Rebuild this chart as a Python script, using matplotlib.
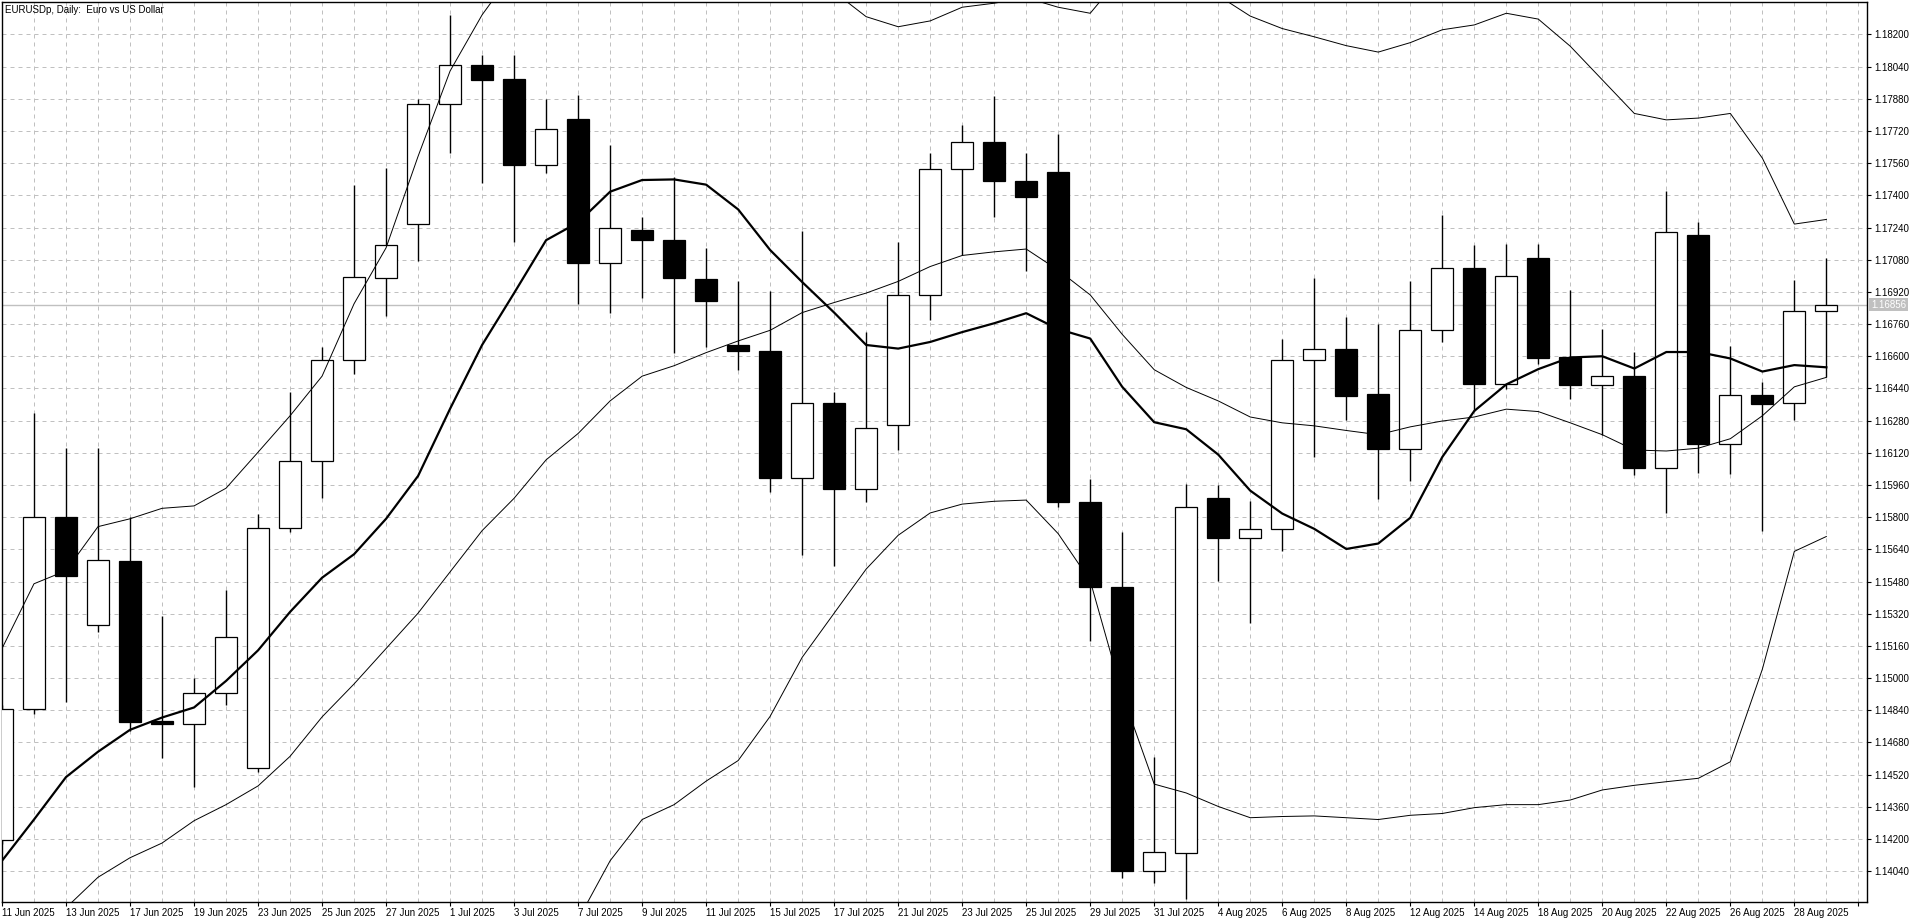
import numpy as np
import matplotlib
matplotlib.use('Agg')
import matplotlib.pyplot as plt
import matplotlib.transforms as mtransforms

plt.rcParams['font.family'] = ['Liberation Sans', 'DejaVu Sans']

# daily bars, EURUSDp
dates = ['11 Jun 2025', '12 Jun 2025', '13 Jun 2025', '16 Jun 2025', '17 Jun 2025', '18 Jun 2025',
         '19 Jun 2025', '20 Jun 2025', '23 Jun 2025', '24 Jun 2025', '25 Jun 2025', '26 Jun 2025',
         '27 Jun 2025', '30 Jun 2025', '1 Jul 2025', '2 Jul 2025', '3 Jul 2025', '4 Jul 2025',
         '7 Jul 2025', '8 Jul 2025', '9 Jul 2025', '10 Jul 2025', '11 Jul 2025', '14 Jul 2025',
         '15 Jul 2025', '16 Jul 2025', '17 Jul 2025', '18 Jul 2025', '21 Jul 2025', '22 Jul 2025',
         '23 Jul 2025', '24 Jul 2025', '25 Jul 2025', '28 Jul 2025', '29 Jul 2025', '30 Jul 2025',
         '31 Jul 2025', '1 Aug 2025', '4 Aug 2025', '5 Aug 2025', '6 Aug 2025', '7 Aug 2025',
         '8 Aug 2025', '11 Aug 2025', '12 Aug 2025', '13 Aug 2025', '14 Aug 2025', '15 Aug 2025',
         '18 Aug 2025', '19 Aug 2025', '20 Aug 2025', '21 Aug 2025', '22 Aug 2025', '25 Aug 2025',
         '26 Aug 2025', '27 Aug 2025', '28 Aug 2025', '29 Aug 2025']

opens = [1.14194, 1.14848, 1.15800, 1.15264, 1.15583, 1.14789, 1.14774, 1.14927, 1.14552, 1.15744,
         1.16078, 1.16580, 1.16990, 1.17256, 1.17854, 1.18048, 1.17977, 1.17552, 1.17781, 1.17063,
         1.17230, 1.17180, 1.16984, 1.16656, 1.16626, 1.15993, 1.16366, 1.15938, 1.16260, 1.16905,
         1.17532, 1.17664, 1.17470, 1.17517, 1.15873, 1.15454, 1.14039, 1.14130, 1.15894, 1.15695,
         1.15739, 1.16582, 1.16635, 1.16410, 1.16137, 1.16729, 1.17037, 1.16462, 1.17086, 1.16597,
         1.16456, 1.16503, 1.16043, 1.17201, 1.16166, 1.16407, 1.16366, 1.16823]
highs = [1.14868, 1.16319, 1.16143, 1.16143, 1.15800, 1.15308, 1.15000, 1.15440, 1.15815, 1.16421,
         1.16647, 1.17453, 1.17535, 1.17878, 1.18297, 1.18097, 1.18100, 1.17878, 1.17901, 1.17652,
         1.17292, 1.17491, 1.17139, 1.16975, 1.16922, 1.17221, 1.16424, 1.16723, 1.17169, 1.17608,
         1.17749, 1.17892, 1.17608, 1.17705, 1.15990, 1.15727, 1.14610, 1.15967, 1.15961, 1.15882,
         1.16685, 1.16990, 1.16796, 1.16758, 1.16972, 1.17303, 1.17154, 1.17157, 1.17160, 1.16931,
         1.16735, 1.16623, 1.17423, 1.17265, 1.16653, 1.16474, 1.16978, 1.17086]
lows = [1.14174, 1.14824, 1.14883, 1.15229, 1.14736, 1.14604, 1.14458, 1.14868, 1.14531, 1.15724,
        1.15894, 1.16512, 1.16802, 1.17075, 1.17608, 1.17462, 1.17169, 1.17511, 1.16861, 1.16817,
        1.16890, 1.16618, 1.16644, 1.16533, 1.15923, 1.15610, 1.15557, 1.15876, 1.16134, 1.16779,
        1.17104, 1.17292, 1.17022, 1.15850, 1.15185, 1.14004, 1.13983, 1.13901, 1.15484, 1.15273,
        1.15633, 1.16099, 1.16281, 1.15891, 1.15982, 1.16670, 1.16327, 1.16436, 1.16559, 1.16386,
        1.16207, 1.16008, 1.15821, 1.16020, 1.16014, 1.15733, 1.16281, 1.16495]
closes = [1.14848, 1.15800, 1.15510, 1.15586, 1.14783, 1.14774, 1.14927, 1.15205, 1.15744, 1.16078,
          1.16580, 1.16993, 1.17154, 1.17854, 1.18048, 1.17974, 1.17552, 1.17731, 1.17063, 1.17236,
          1.17177, 1.16990, 1.16875, 1.16626, 1.15993, 1.16366, 1.15938, 1.16243, 1.16905, 1.17532,
          1.17664, 1.17473, 1.17391, 1.15873, 1.15451, 1.14039, 1.14136, 1.15850, 1.15695, 1.15739,
          1.16580, 1.16635, 1.16401, 1.16137, 1.16729, 1.17037, 1.16462, 1.17001, 1.16591, 1.16456,
          1.16500, 1.16043, 1.17218, 1.16166, 1.16407, 1.16363, 1.16823, 1.16856]

# thick moving average
ma_line = [1.14092, 1.14297, 1.14508, 1.14634, 1.14743, 1.14804, 1.14854, 1.14986, 1.15138, 1.15329,
           1.15499, 1.15616, 1.15792, 1.16005, 1.16339, 1.16656, 1.16914, 1.17177, 1.17265, 1.17418,
           1.17476, 1.17479, 1.17453, 1.17330, 1.17128, 1.16969, 1.16817, 1.16656, 1.16638, 1.16671,
           1.16720, 1.16764, 1.16814, 1.16735, 1.16688, 1.16448, 1.16272, 1.16237, 1.16111, 1.15932,
           1.15818, 1.15742, 1.15642, 1.15669, 1.15797, 1.16099, 1.16328, 1.16460, 1.16536, 1.16594,
           1.16600, 1.16539, 1.16621, 1.16621, 1.16589, 1.16524, 1.16556, 1.16545]

# bollinger bands
bb_upper = [1.15147, 1.15469, 1.15534, 1.15753, 1.15792, 1.15844, 1.15856, 1.15944, 1.16123, 1.16304,
            1.16501, 1.16861, 1.17139, 1.17594, 1.18018, 1.18297, 1.18516, 1.18722, 1.18634, 1.18663,
            1.18710, 1.18736, 1.18748, 1.18763, 1.18648, 1.18531, 1.18411, 1.18288, 1.18238, 1.18267,
            1.18335, 1.18355, 1.18382, 1.18335, 1.18305, 1.18496, 1.18593, 1.18461, 1.18393, 1.18291,
            1.18229, 1.18188, 1.18144, 1.18112, 1.18159, 1.18223, 1.18247, 1.18305, 1.18276, 1.18141,
            1.17974, 1.17807, 1.17775, 1.17784, 1.17807, 1.17585, 1.17257, 1.17280]
bb_middle = [1.13565, 1.13711, 1.13858, 1.14010, 1.14107, 1.14180, 1.14291, 1.14371, 1.14464, 1.14611,
             1.14807, 1.14971, 1.15147, 1.15323, 1.15528, 1.15733, 1.15894, 1.16085, 1.16216, 1.16378,
             1.16501, 1.16553, 1.16618, 1.16676, 1.16729, 1.16817, 1.16867, 1.16914, 1.16972, 1.17046,
             1.17101, 1.17119, 1.17133, 1.17028, 1.16905, 1.16709, 1.16533, 1.16445, 1.16378, 1.16298,
             1.16269, 1.16254, 1.16231, 1.16210, 1.16249, 1.16278, 1.16298, 1.16337, 1.16325, 1.16269,
             1.16210, 1.16134, 1.16129, 1.16143, 1.16190, 1.16304, 1.16448, 1.16495]
bb_lower = [1.11983, 1.11953, 1.12182, 1.12267, 1.12422, 1.12516, 1.12727, 1.12797, 1.12806, 1.12917,
            1.13114, 1.13081, 1.13155, 1.13052, 1.13037, 1.13169, 1.13272, 1.13448, 1.13799, 1.14092,
            1.14297, 1.14371, 1.14488, 1.14590, 1.14810, 1.15103, 1.15323, 1.15542, 1.15710, 1.15821,
            1.15865, 1.15879, 1.15885, 1.15718, 1.15484, 1.14921, 1.14473, 1.14429, 1.14362, 1.14306,
            1.14312, 1.14315, 1.14306, 1.14297, 1.14318, 1.14327, 1.14356, 1.14371, 1.14371, 1.14394,
            1.14444, 1.14467, 1.14485, 1.14502, 1.14584, 1.15044, 1.15630, 1.15704]

bid_price = 1.16856
title = 'EURUSDp, Daily:  Euro vs US Dollar'

n = len(dates)
x = np.arange(n)
o = np.array(opens)
c = np.array(closes)

fig = plt.figure(figsize=(19.2, 9.23), dpi=100)
ax = fig.add_axes([2 / 1920, 21 / 923, 1865 / 1920, 900 / 923])

ax.set_xlim(0, 58.27)
ax.set_ylim(1.13887, 1.18361)

# grid: every bar vertically, every 0.0016 horizontally
ax.set_xticks(np.arange(0, 59, 2))
ax.set_xticks(np.arange(1, 59, 2), minor=True)
ax.set_xticklabels([dates[i] if i < n else '' for i in range(0, 59, 2)], ha='left', fontsize=7)
yt = np.arange(1.14040, 1.18201, 0.0016)
ax.set_yticks(yt)
ax.set_yticklabels(['%.5f' % v for v in yt], fontsize=7)
ax.yaxis.tick_right()
ax.tick_params(axis='y', direction='out', length=3, width=0.8, pad=2)
ax.tick_params(axis='x', which='major', direction='out', length=3, width=0.8, pad=1)
ax.tick_params(axis='x', which='minor', length=0)
ax.grid(True, which='both', color='#c0c0c0', linestyle=(0, (4, 4)), linewidth=0.72)
ax.set_axisbelow(True)
for s in ax.spines.values():
    s.set_linewidth(1.0)

# bid line
ax.axhline(bid_price, color='#c0c0c0', linewidth=1.0, zorder=1)
trans = mtransforms.blended_transform_factory(ax.transAxes, ax.transData)
ax.text(1.0021, bid_price, '%.5f' % bid_price, transform=trans, color='white', fontsize=7,
        va='center', ha='left', bbox=dict(facecolor='#c0c0c0', edgecolor='none', pad=1.2), zorder=5,
        clip_on=False)

# candles
ax.vlines(x, lows, highs, color='black', linewidth=1.0, zorder=2)
bottoms = np.minimum(o, c)
heights = np.maximum(np.abs(c - o), 0.00004)
face = ['white' if cc > oo else 'black' for oo, cc in zip(o, c)]
ax.bar(x, heights, bottom=bottoms, width=0.69, color=face, edgecolor='black', linewidth=0.9, zorder=3)

# indicators
ax.plot(x, bb_upper, color='black', linewidth=0.7, zorder=4)
ax.plot(x, bb_middle, color='black', linewidth=0.7, zorder=4)
ax.plot(x, bb_lower, color='black', linewidth=0.7, zorder=4)
ax.plot(x, ma_line, color='black', linewidth=1.6, zorder=4)

ax.text(0.0015, 0.997, title, transform=ax.transAxes, fontsize=7, va='top', ha='left', zorder=6)

fig.savefig('out.png', dpi=100, facecolor='white')
